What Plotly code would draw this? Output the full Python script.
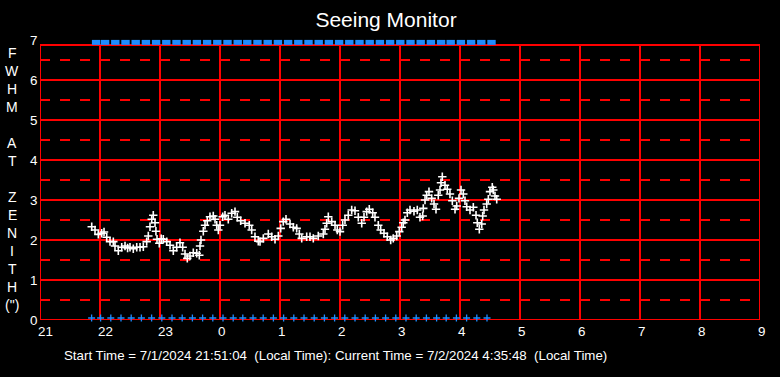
import plotly.graph_objects as go

# ---- data (hours since midnight of 7/1; values > 24 are after midnight) ----
hours = [21.862, 21.917, 21.972, 22.028, 22.067, 22.112, 22.167, 22.222, 22.25, 22.305,
         22.362, 22.417, 22.46, 22.5, 22.555, 22.612, 22.667, 22.722, 22.778, 22.805,
         22.833, 22.862, 22.888, 22.917, 22.932, 22.95, 22.988, 23.02, 23.055, 23.112,
         23.167, 23.222, 23.278, 23.333, 23.378, 23.417, 23.455, 23.5, 23.555, 23.612,
         23.655, 23.667, 23.683, 23.722, 23.75, 23.788, 23.833, 23.888, 23.917, 23.945,
         23.972, 24.0, 24.045, 24.083, 24.138, 24.195, 24.25, 24.288, 24.345, 24.417,
         24.488, 24.528, 24.583, 24.638, 24.667, 24.722, 24.805, 24.862, 24.917, 24.972,
         25.012, 25.055, 25.1, 25.167, 25.222, 25.278, 25.322, 25.362, 25.445, 25.5,
         25.555, 25.638, 25.722, 25.75, 25.778, 25.805, 25.862, 25.917, 25.955, 26.0,
         26.045, 26.083, 26.138, 26.195, 26.25, 26.305, 26.362, 26.4, 26.445, 26.488,
         26.545, 26.583, 26.638, 26.678, 26.733, 26.788, 26.845, 26.888, 26.945, 26.988,
         27.028, 27.055, 27.083, 27.122, 27.167, 27.233, 27.288, 27.333, 27.378, 27.388,
         27.417, 27.445, 27.483, 27.528, 27.567, 27.6, 27.638, 27.667, 27.683, 27.705,
         27.75, 27.788, 27.833, 27.872, 27.917, 27.945, 27.983, 28.017, 28.055, 28.083,
         28.112, 28.167, 28.222, 28.267, 28.288, 28.322, 28.362, 28.378, 28.4, 28.445,
         28.472, 28.5, 28.538, 28.555, 28.583, 28.612]
fwhm = [2.33, 2.25, 2.14, 2.17, 2.20, 2.07, 1.96, 1.96, 1.85, 1.73,
        1.82, 1.85, 1.80, 1.82, 1.78, 1.82, 1.82, 1.83, 1.96, 2.10,
        2.33, 2.52, 2.62, 2.43, 2.22, 2.02, 1.92, 2.03, 2.02, 1.96,
        1.87, 1.73, 1.82, 1.93, 1.82, 1.65, 1.54, 1.60, 1.68, 1.67,
        1.62, 1.85, 2.00, 2.22, 2.37, 2.48, 2.58, 2.60, 2.52, 2.37,
        2.25, 2.37, 2.58, 2.62, 2.52, 2.67, 2.71, 2.57, 2.48, 2.42,
        2.37, 2.25, 2.08, 1.97, 1.96, 2.04, 2.15, 2.08, 2.02, 2.10,
        2.29, 2.46, 2.52, 2.40, 2.32, 2.29, 2.15, 2.04, 2.08, 2.08,
        2.04, 2.10, 2.15, 2.27, 2.42, 2.58, 2.46, 2.37, 2.25, 2.21,
        2.37, 2.50, 2.62, 2.75, 2.73, 2.57, 2.42, 2.57, 2.71, 2.77,
        2.68, 2.57, 2.37, 2.25, 2.17, 2.08, 2.00, 2.04, 2.10, 2.21,
        2.32, 2.43, 2.50, 2.68, 2.75, 2.72, 2.75, 2.57, 2.60, 2.79,
        3.00, 3.12, 3.21, 3.04, 2.90, 2.77, 3.12, 3.25, 3.43, 3.58,
        3.37, 3.27, 3.15, 2.98, 2.77, 2.85, 3.04, 3.25, 3.15, 2.98,
        2.83, 2.75, 2.82, 2.62, 2.43, 2.27, 2.40, 2.60, 2.75, 2.90,
        3.02, 3.21, 3.32, 3.25, 3.10, 3.02]

sample_hours = [21.86, 22.01, 22.18, 22.35, 22.52, 22.69, 22.86, 23.03, 23.20, 23.37,
                23.54, 23.71, 23.88, 24.05, 24.22, 24.38, 24.55, 24.72, 24.89, 25.06,
                25.23, 25.40, 25.57, 25.74, 25.91, 26.08, 26.25, 26.42, 26.59, 26.76,
                26.93, 27.10, 27.27, 27.44, 27.61, 27.77, 27.94, 28.11, 28.28, 28.45]
coverage_level = 6.94
baseline_level = 0.05

x_ticks = list(range(21, 34))
x_tick_labels = [str(h % 24) for h in x_ticks]
y_ticks = list(range(0, 8))
box_top = 6.875
y_label_letters = ["F", "W", "H", "M", "", "A", "T", "", "Z", "E", "N", "I", "T", "H", "(\")"]

title_text = "Seeing Monitor"
footer_text = ("Start Time = 7/1/2024 21:51:04&nbsp;&nbsp;(Local Time): "
               "Current Time = 7/2/2024 4:35:48&nbsp;&nbsp;(Local Time)")

FONT = "Liberation Sans, Arial, sans-serif"
RED = "#ff0000"
BLUE = "#1e8cff"

fig = go.Figure()

fig.add_trace(go.Scatter(
    x=hours, y=fwhm, mode="markers",
    marker=dict(symbol="cross-thin", size=6, color="white",
                line=dict(color="white", width=1.6)),
    hoverinfo="skip", showlegend=False))

fig.add_trace(go.Scatter(
    x=sample_hours, y=[baseline_level] * len(sample_hours), mode="markers",
    marker=dict(symbol="cross-thin", size=5, color=BLUE,
                line=dict(color=BLUE, width=1.3)),
    cliponaxis=False, hoverinfo="skip", showlegend=False))

fig.add_trace(go.Scatter(
    x=[h + 0.075 for h in sample_hours], y=[coverage_level] * len(sample_hours),
    mode="markers",
    marker=dict(symbol="line-ew", size=6, color=BLUE,
                line=dict(color=BLUE, width=5)),
    cliponaxis=False, hoverinfo="skip", showlegend=False))

shapes = []
for v in x_ticks:
    shapes.append(dict(type="line", xref="x", yref="y", x0=v, x1=v, y0=0, y1=box_top,
                       line=dict(color=RED, width=2), layer="below"))
for yv in (0, box_top):
    shapes.append(dict(type="line", xref="x", yref="y", x0=x_ticks[0], x1=x_ticks[-1],
                       y0=yv, y1=yv, line=dict(color=RED, width=2), layer="below"))

annotations = []
for v, lab in zip(x_ticks, x_tick_labels):
    annotations.append(dict(x=v, xref="x", y=0, yref="paper", yshift=-11,
                            text=lab, showarrow=False, xanchor="left", xshift=-4,
                            yanchor="middle",
                            font=dict(family=FONT, size=13.4, color="white")))
for v in y_ticks:
    annotations.append(dict(x=0, xref="paper", y=v, yref="y",
                            text=str(v), showarrow=False, xanchor="left", xshift=-12,
                            yanchor="middle",
                            font=dict(family=FONT, size=13.4, color="white")))
for i, ch in enumerate(y_label_letters):
    if ch:
        annotations.append(dict(x=0, xref="paper", xshift=-28, xanchor="center",
                                y=1, yref="paper", yshift=-(53 + 18 * i - 40),
                                yanchor="middle", text=ch, showarrow=False,
                                font=dict(family=FONT, size=14, color="white")))
annotations.append(dict(x=0, xref="paper", xshift=22, xanchor="left",
                        y=0, yref="paper", yshift=-35, yanchor="middle",
                        text=footer_text, showarrow=False,
                        font=dict(family=FONT, size=13.3, color="white")))

fig.update_layout(
    width=780, height=377,
    margin=dict(l=40, r=20, t=40, b=57, pad=0),
    paper_bgcolor="black", plot_bgcolor="black",
    title=dict(text=title_text, x=386 / 780, xref="container", xanchor="center",
               y=1 - 20 / 377, yref="container", yanchor="middle",
               font=dict(family=FONT, size=21, color="white")),
    xaxis=dict(range=[21, 33], showticklabels=False, ticks="",
               showgrid=False, zeroline=False, showline=False, fixedrange=True),
    yaxis=dict(range=[0, 7], tickvals=y_ticks[1:-1], showticklabels=False,
               ticks="", showgrid=True, gridcolor=RED, gridwidth=2, zeroline=False,
               showline=False, fixedrange=True,
               minor=dict(tickvals=[v + 0.5 for v in y_ticks[:-1]], showgrid=True,
                          gridcolor=RED, gridwidth=2, griddash="10px,10px", ticks="")),
    shapes=shapes,
    annotations=annotations,
    showlegend=False,
)

fig.write_html("out.html", config={"displayModeBar": False},
               post_script="document.body.style.margin='0';")
